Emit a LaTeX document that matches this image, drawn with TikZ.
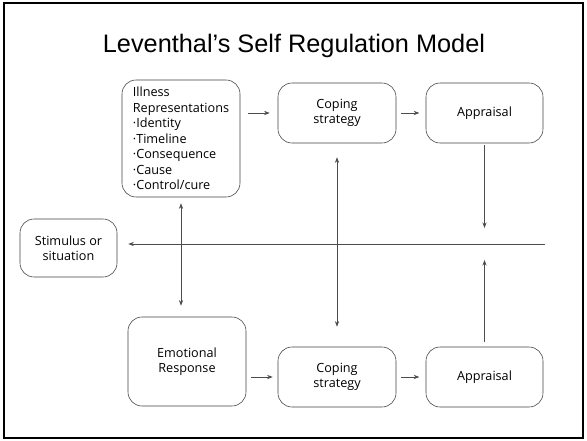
\documentclass[tikz,border=0pt]{standalone}
\usepackage{fontspec}
\setmainfont{Liberation Sans}
\newfontfamily\boxfont{Open Sans}
\usetikzlibrary{arrows.meta,calc}

\begin{document}
\begin{tikzpicture}[>={Stealth[length=4pt,width=3pt]},
  box/.style={draw=black!75, rounded corners=0.35cm, minimum width=2.95cm, minimum height=1.5cm,
    align=center, inner sep=0pt, font=\boxfont\fontsize{9}{11}\selectfont},
  link/.style={draw=black!70, line width=0.5pt}]

\useasboundingbox (0,0) rectangle (14.675,11);
\draw [line width=1pt] (0.1,0.05) rectangle (14.575,10.925);

\node (title) [anchor=base, font=\fontsize{18}{22}\selectfont] at (7.35,9.675) {Leventhal’s Self Regulation Model};

% top row
\node (illness) [box, minimum height=2.925cm, align=left] at (4.525,7.5375)
  {Illness\\Representations\\·Identity\\·Timeline\\·Consequence\\·Cause\\·Control/cure};
\node (cope1) [box] at (8.425,8.175) {Coping\\strategy};
\node (appr1) [box, minimum width=2.925cm] at (12.1125,8.175) {Appraisal};

\node (stim) [box, minimum width=2.425cm, minimum height=1.45cm] at (1.7125,4.8) {Stimulus or\\situation};

% bottom row
\node (emo) [box, minimum height=2.225cm] at (4.675,1.9625) {Emotional\\Response};
\node (cope2) [box] at (8.425,1.575) {Coping\\strategy};
\node (appr2) [box, minimum width=2.925cm] at (12.1125,1.575) {Appraisal};

\coordinate (loop) at (13.625,4.9);

\draw [link,->, shorten <=0.2cm, shorten >=0.2cm] (illness.east |- cope1.west) -- (cope1.west);
\draw [link,->, shorten <=0.125cm, shorten >=0.125cm] (emo.east |- cope2.west) -- (cope2.west);

\foreach \a/\b in {cope1/appr1, cope2/appr2} {
        % short arrows to the appraisal boxes
        \draw [link,->, shorten <=0.13cm, shorten >=0.16cm] (\a) -- (\b);
    }

% feedback line
\draw [link,->, shorten <=0.05cm, shorten >=0.4cm] (appr1.south) -- (appr1.south |- loop);
\draw [link,->, shorten <=0.125cm, shorten >=0.4cm] (appr2.north) -- (appr2.north |- loop);
\draw [link,->, shorten >=0.275cm] (loop) -- (stim.east |- loop);

\draw [link,<->, shorten <=0.35cm, shorten >=0.5cm] (cope1.south) -- (cope2.north);
\draw [link,<->, shorten <=0.15cm, shorten >=0.275cm] (illness.south) -- (illness.south |- emo.north);

\end{tikzpicture}
\end{document}
